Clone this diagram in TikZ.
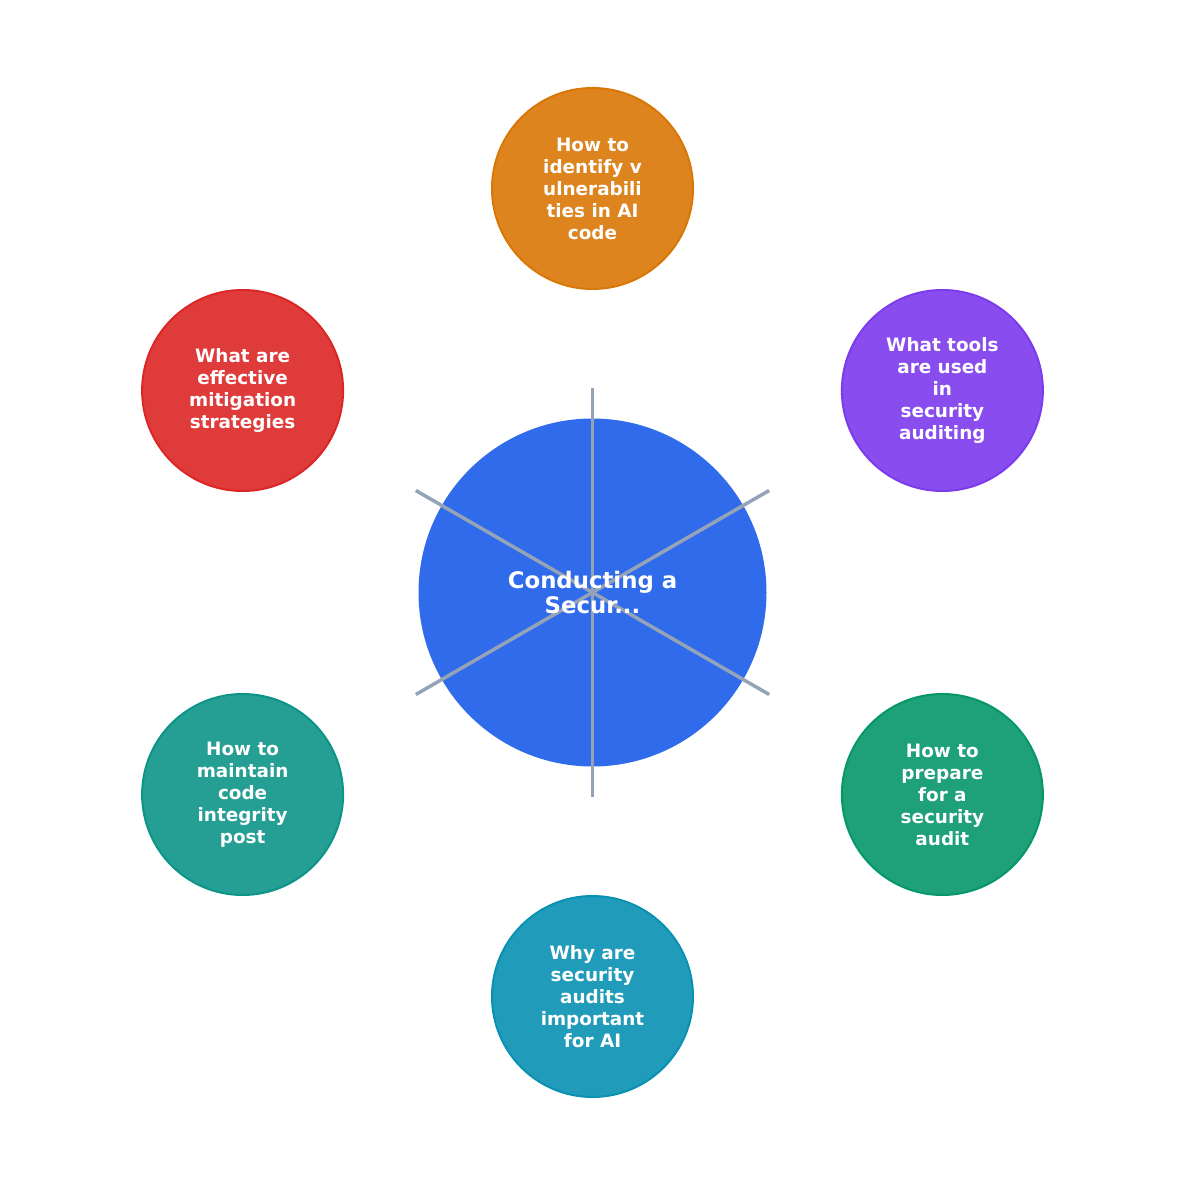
\documentclass[tikz,border=0pt]{standalone}
\usepackage{fontspec}
\setmainfont{DejaVu Sans}
\usepackage{xcolor}
\usetikzlibrary{positioning}

\definecolor{hubblue}{HTML}{2563EB}
\definecolor{spoke}{HTML}{94A3B8}
\definecolor{amber}{HTML}{D97706}
\definecolor{violet}{HTML}{7C3AED}
\definecolor{emerald}{HTML}{059669}
\definecolor{cyan}{HTML}{0891B2}
\definecolor{teal}{HTML}{0D9488}
\definecolor{crimson}{HTML}{DC2626}

\begin{document}
\begin{tikzpicture}[x=1pt, y=1pt]
\tikzset{
hub/.style={circle, fill=hubblue, fill opacity=0.95, draw=none, minimum size=348pt, inner sep=0pt},
hublabel/.style={text=white, align=center, font=\fontsize{22.8}{25}\selectfont\bfseries},
topic/.style={circle, draw=#1, fill=#1, fill opacity=0.9, draw opacity=1, text opacity=1,
    line width=2pt, minimum size=201pt, inner sep=0pt, text=white, align=center,
    font=\fontsize{18.4}{22}\selectfont\bfseries},
spokeline/.style={draw=spoke, line width=3.5pt}
 }
\useasboundingbox (-592.5,-592.5) rectangle (592.5,592.5);
\node[hub] (hub) at (0,0) {};
\coordinate (s1) at (90:204);
\coordinate (s2) at (30:204);
\coordinate (s3) at (-30:204);
\coordinate (s4) at (-90:204);
\coordinate (s5) at (-150:204);
\coordinate (s6) at (150:204);
\foreach \s in {s1,s2,s3,s4,s5,s6}
  \draw[spokeline] (hub.center) -- (\s);
\node[hublabel] (title) at (hub.center) {Conducting a\\Secur...};

\node[topic=amber] (identify) at (90:404) {How to\\identify v\\ulnerabili\\ties in AI\\code};
\node[topic=violet] (tools) at (30:404) {What tools\\are used\\in\\security\\auditing};
\node[topic=emerald] (prepare) at (-30:404) {How to\\prepare\\for a\\security\\audit};
\node[topic=cyan] (why) at (-90:404) {Why are\\security\\audits\\important\\for AI};
\node[topic=teal] (maintain) at (-150:404) {How to\\maintain\\code\\integrity\\post};
\node[topic=crimson] (mitigate) at (150:404) {What are\\effective\\mitigation\\strategies};
\end{tikzpicture}
\end{document}
